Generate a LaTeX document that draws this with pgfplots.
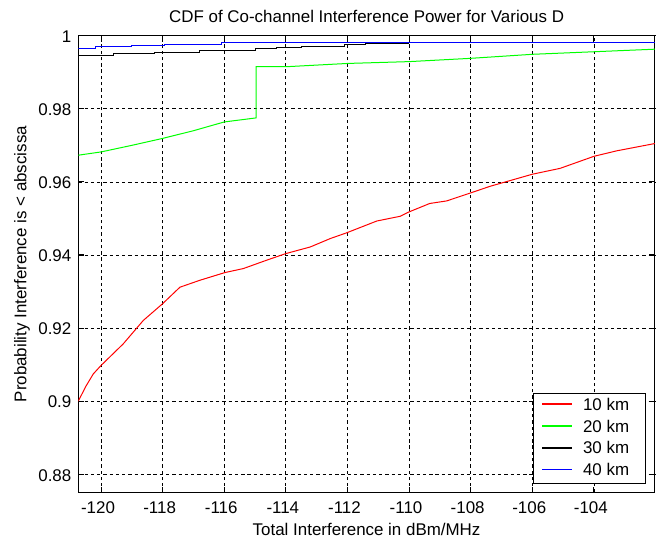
\documentclass[border=0pt]{standalone}
\usepackage{fontspec}
\setmainfont{Liberation Sans}
\usepackage{pgfplots}
\pgfplotsset{compat=1.18}
% legend line drawn as coloured rule in the text cell
\newcommand\legtxt[2]{\textcolor{#1}{\rule[4.05pt]{22.5pt}{1pt}}\hspace{8pt}\makebox[40.5pt][l]{#2}}

\begin{document}
\fontsize{12.7}{15}\selectfont
\begin{tikzpicture}
\useasboundingbox (-58.7pt,-37.7pt) rectangle (434.8pt,369.5pt);
\begin{axis}[
  scale only axis, width=432.5pt, height=342.75pt,
  xmin=-120.74, xmax=-102.02, ymin=0.875, ymax=1,
  xtick={-120,-118,-116,-114,-112,-110,-108,-106,-104},
  ytick={0.88,0.9,0.92,0.94,0.96,0.98,1},
  grid=major,
  major grid style={black, line width=0.6pt, dash pattern=on 2.5pt off 2.2pt},
  axis line style={line width=0.8pt},
  tick style={black, line width=0.8pt}, major tick length=4.5pt,
  tick align=inside,
  /pgf/number format/assume math mode=true,
  xticklabel style={anchor=base, yshift=-15.5pt, xshift=-2.3pt},
  yticklabel style={anchor=base east, inner sep=0pt, xshift=-5pt, yshift=-5pt},
  title={CDF of Co-channel Interference Power for Various D},
  every axis title/.style={at={(axis description cs:0.5,1.0284)}, anchor=base},
  xlabel={Total Interference in dBm/MHz},
  every axis x label/.style={at={(axis description cs:0.5,-0.0948)}, anchor=base},
  ylabel={Probability Interference is < abscissa},
  every axis y label/.style={at={(axis description cs:-0.0902,0.5)}, anchor=base, rotate=90},
  legend style={at={(axis description cs:1,0)}, anchor=south east,
    xshift=-6.75pt, yshift=6.75pt, draw=black, line width=0.75pt, fill=none,
    inner xsep=6.3pt, inner ysep=3.6pt, row sep=5.3pt, column sep=0pt,
    nodes={inner sep=0pt}},
  legend cell align=left,
  legend image code/.code={},
]
% 10 km
\addplot[red, line width=0.75pt] coordinates {
  (-120.74,0.9000) (-120.50,0.9040) (-120.25,0.9075) (-120.00,0.9098)
  (-119.28,0.9157) (-118.63,0.9221) (-118.00,0.9267) (-117.44,0.9312)
  (-116.79,0.9331) (-115.98,0.9352) (-115.38,0.9363) (-114.62,0.9386)
  (-114.00,0.9404) (-113.21,0.9422) (-112.56,0.9445) (-112.02,0.9461)
  (-111.05,0.9493) (-110.29,0.9506) (-110.00,0.9518) (-109.33,0.9541)
  (-108.78,0.9548) (-108.00,0.9570) (-107.37,0.9588) (-106.00,0.9621)
  (-105.10,0.9637) (-104.00,0.9670) (-103.26,0.9685) (-102.02,0.9705)
};
% 20 km
\addplot[green, line width=0.75pt] coordinates {
  (-120.74,0.9673) (-120.00,0.9682) (-119.00,0.9700) (-118.00,0.9719)
  (-117.00,0.9740) (-116.00,0.9764) (-114.97,0.9775) (-114.97,0.9915)
  (-114.00,0.9915) (-112.00,0.9924) (-110.00,0.9929) (-108.00,0.9938)
  (-106.00,0.9949) (-104.00,0.9956) (-102.02,0.9963)
};
% 30 km
\addplot[black, line width=0.75pt, const plot] coordinates {
  (-120.74,0.99452) (-119.60,0.99500) (-118.25,0.99545) (-116.79,0.99590)
  (-115.00,0.99636) (-114.30,0.99670) (-113.50,0.99700) (-112.10,0.99753)
  (-111.40,0.99790) (-110.00,0.99790)
};
% 40 km
\addplot[blue, line width=0.75pt, const plot] coordinates {
  (-120.74,0.99655) (-120.17,0.99690) (-119.00,0.99726) (-117.94,0.99753)
  (-116.08,0.99820) (-102.02,0.99820)
};
% white patch behind the legend so the grid does not show through
\fill[white] (axis description cs:0.7907,0.019) rectangle (axis description cs:0.9839,0.2188);
\legend{\legtxt{red}{10 km},\legtxt{green}{20 km},\legtxt{black}{30 km},\legtxt{blue}{40 km}}
\end{axis}
\end{tikzpicture}
\end{document}
